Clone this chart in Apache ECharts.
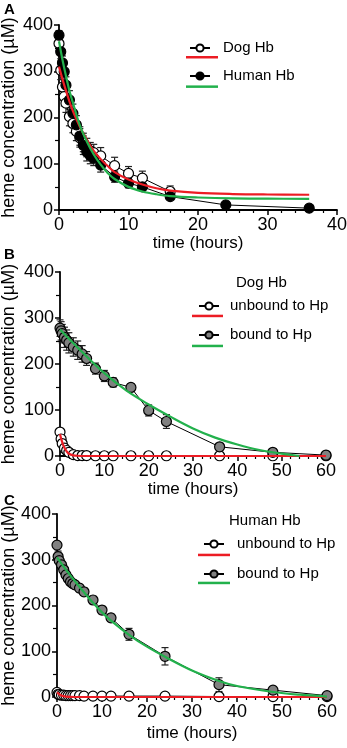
<!DOCTYPE html>
<html>
<head>
<meta charset="utf-8">
<script src="https://cdn.jsdelivr.net/npm/echarts@6/dist/echarts.min.js"></script>
<style>html,body{margin:0;padding:0;background:#fff}#c{width:347px;height:748px}</style>
</head>
<body>
<div id="c"></div>
<script>
// ---- Panel A ----
const tA = [0, 0.25, 0.5, 0.75, 1, 1.5, 2, 2.5, 3, 3.5, 4, 4.5, 5, 6, 8, 10, 12, 16, 24, 36];
const dogA = [360, 302, 266, 245, 231, 202, 187, 170, 156, 146, 135, 128, 124, 117, 96, 79, 69, 40, null, null];
const dogAErr = [15, 20, 20, 20, 20, 20, 20, 20, 20, 20, 20, 18, 18, 18, 18, 15, 15, 12, null, null];
const humanA = [378, 342, 318, 299, 270, 238, 209, 184, 160, 140, 126, 118, 112, 97, 72, 58, 50, 29, 11, 4];
const humanAErr = [10, 15, 15, 18, 18, 20, 20, 20, 20, 20, 20, 18, 16, 15, 12, 10, 8, 6, 4, 3];
const fitTA = [0, 0.5, 1, 1.5, 2, 3, 4, 5, 6, 7, 8, 10, 12, 14, 16, 20, 25, 30, 36];
const dogFitA = [310, 283, 258, 235, 214, 180, 152, 128, 110, 95, 82, 66, 55, 47, 42, 37, 34.5, 33.5, 33];
const humanFitA = [365, 325, 290, 258, 232, 183, 148, 120, 98, 80, 67, 50, 40, 34, 30, 27, 25, 24.5, 24];

// ---- Panel B (Dog Hb) ----
const tB = [0, 0.25, 0.5, 1, 1.5, 2, 3, 4, 5, 6, 8, 10, 12, 16, 20, 24, 36, 48, 60];
const boundB = [278, 272, 266, 258, 252, 246, 237, 230, 222, 212, 190, 174, 160, 149, 99, 75, 20, 8, 2];
const boundBErr = [18, 20, 20, 22, 22, 22, 20, 20, 18, 15, 12, 12, 10, 8, 12, 15, 5, 5, 3];
const unboundB = [52, 37, 27, 17, 12, 8, 3, 1, 1, 1, 0.5, 0.5, 0.5, 0.5, 0.5, 0.5, 0.5, 0.5, 0.5];
const unboundBErr = [5, 6, 5, 4, 3, 3, 2, 1, 1, 1, 0, 0, 0, 0, 0, 0, 0, 0, 0];
const fitTBu = [0, 0.25, 0.5, 0.75, 1, 1.5, 2, 3, 4, 6, 60];
const unboundFitB = [48, 38, 30, 23, 18, 10, 5, 1.5, 0.5, 0, 0];
const fitTBb = [0, 5, 10, 15, 20, 25, 30, 35, 40, 45, 50, 54];
const boundFitB = [275, 226, 180, 142, 112, 85, 60, 40, 25, 13, 5, 0];

// ---- Panel C (Human Hb) ----
const tC = [0, 0.25, 0.5, 1, 1.5, 2, 2.5, 3, 3.5, 4, 5, 6, 8, 10, 12, 16, 24, 36, 48, 60];
const boundC = [332, 307, 298, 289, 278, 267, 259, 252, 248, 245, 238, 230, 212, 190, 173, 137, 89, 27, 15, 3];
const boundCErr = [5, 12, 10, 10, 10, 8, 8, 8, 8, 8, 8, 8, 8, 8, 8, 13, 19, 15, 8, 5];
const unboundC = [10, 6, 5, 4, 4, 3, 3, 3, 3, 3, 3, 2, 2, 2, 2, 2, 2, 1, 1, 1];
const fitTCu = [0, 0.5, 1, 2, 4, 60];
const unboundFitC = [10, 6, 3, 1, 0, 0];
const fitTCb = [0, 2, 4, 6, 8, 10, 12, 16, 20, 24, 30, 36, 40, 48, 54, 60];
const boundFitC = [305, 278, 253, 229, 206, 185, 167, 136, 110, 88, 58, 35, 24, 11, 5, 1];

// tick labels
const yTicks = [0, 100, 200, 300, 400];
const xTicksA = [0, 10, 20, 30, 40];
const xTicksBC = [0, 10, 20, 30, 40, 50, 60];

const FONT = 'Liberation Sans, Arial, Helvetica, sans-serif';
const RED = '#ec1c24';
const GREEN = '#22b14c';

function pairs(t, v) { const out = []; t.forEach((x, i) => { if (v[i] != null) out.push([x, v[i]]); }); return out; }
function triples(t, v, e) { const out = []; t.forEach((x, i) => { if (v[i] != null && e[i]) out.push([x, v[i], e[i]]); }); return out; }

function errRender(params, api) {
  const x = api.value(0), y = api.value(1), e = api.value(2);
  const hi = api.coord([x, y + e]);
  const lo = api.coord([x, y - e]);
  const w = 3.5;
  const st = { stroke: '#222', lineWidth: 1.2 };
  return { type: 'group', children: [
    { type: 'line', shape: { x1: hi[0], y1: hi[1], x2: lo[0], y2: lo[1] }, style: st },
    { type: 'line', shape: { x1: hi[0] - w, y1: hi[1], x2: hi[0] + w, y2: hi[1] }, style: st },
    { type: 'line', shape: { x1: lo[0] - w, y1: lo[1], x2: lo[0] + w, y2: lo[1] }, style: st }
  ]};
}

function xAxisCfg(idx, max, ticks, gap) {
  return {
    type: 'value', gridIndex: idx, min: 0, max: max, interval: 10,
    name: 'time (hours)', nameLocation: 'middle', nameGap: gap, nameMoveOverlap: false,
    nameTextStyle: { fontFamily: FONT, fontSize: 17, color: '#000' },
    axisLine: { onZero: false, lineStyle: { color: '#000', width: 1.8 } },
    axisTick: { show: true, length: 5, lineStyle: { color: '#000', width: 1.5 } },
    minorTick: { show: true, splitNumber: 5, length: 3, lineStyle: { color: '#000', width: 1.2 } },
    axisLabel: { fontFamily: FONT, fontSize: 18, color: '#000', margin: 6,
      formatter: v => ticks.indexOf(v) >= 0 ? String(v) : '' },
    splitLine: { show: false }
  };
}
function yAxisCfg(idx, gap) {
  return {
    type: 'value', gridIndex: idx, min: 0, max: 400, interval: 100,
    name: 'heme concentration (\u00b5M)', nameLocation: 'middle', nameGap: gap, nameRotate: 90,
    nameMoveOverlap: false,
    nameTextStyle: { fontFamily: FONT, fontSize: 18, color: '#000' },
    axisLine: { show: true, onZero: false, lineStyle: { color: '#000', width: 1.8 } },
    axisTick: { show: true, length: 5, lineStyle: { color: '#000', width: 1.5 } },
    minorTick: { show: true, splitNumber: 2, length: 4, lineStyle: { color: '#000', width: 1.2 } },
    axisLabel: { fontFamily: FONT, fontSize: 18, color: '#000', margin: 6,
      formatter: v => yTicks.indexOf(v) >= 0 ? String(v) : '' },
    splitLine: { show: false }
  };
}

function dataSeries(name, idx, t, v, fill) {
  return { name: name, type: 'line', xAxisIndex: idx, yAxisIndex: idx, data: pairs(t, v),
    symbol: 'circle', symbolSize: 10, showSymbol: true, z: 3,
    lineStyle: { color: '#000', width: 1 },
    itemStyle: { color: fill, borderColor: '#000', borderWidth: 1.2 },
    emphasis: { disabled: true }, animation: false };
}
function fitSeries(name, idx, t, v, color) {
  return { name: name, type: 'line', xAxisIndex: idx, yAxisIndex: idx, data: pairs(t, v),
    symbol: 'none', smooth: 0.35, z: 4, color: color,
    lineStyle: { color: color, width: 2.2 }, emphasis: { disabled: true }, animation: false };
}
function errSeries(idx, t, v, e) {
  return { type: 'custom', xAxisIndex: idx, yAxisIndex: idx, data: triples(t, v, e),
    renderItem: errRender, encode: { x: 0, y: 1 }, z: 2, silent: true, animation: false };
}

const LT = { fontFamily: FONT, fontSize: 15, color: '#000', lineHeight: 16 };
function legendData(name, left, top, padL) {
  return { data: [name], left: left, top: top, padding: 0, itemWidth: 20, itemHeight: 9,
    selectedMode: false, textStyle: Object.assign({}, LT, { padding: [0, 0, 0, padL] }) };
}
function legendFit(name, left, top, w) {
  return { data: [name], left: left, top: top, padding: 0, itemWidth: w, itemHeight: 2.5,
    icon: 'rect', selectedMode: false, formatter: () => '', textStyle: LT };
}

const option = {
  animation: false,
  backgroundColor: '#fff',
  grid: [
    { left: 59, top: 25, width: 278, height: 185, outerBoundsMode: 'none', containLabel: false },
    { left: 60, top: 272, width: 266, height: 184, outerBoundsMode: 'none', containLabel: false },
    { left: 57, top: 514, width: 270, height: 183, outerBoundsMode: 'none', containLabel: false }
  ],
  xAxis: [xAxisCfg(0, 40, xTicksA, 25), xAxisCfg(1, 60, xTicksBC, 25), xAxisCfg(2, 60, xTicksBC, 28)],
  yAxis: [yAxisCfg(0, 41), yAxisCfg(1, 42), yAxisCfg(2, 39)],
  title: [
    { text: 'A', left: 4, top: 2, padding: 0, textStyle: { fontFamily: FONT, fontSize: 15, fontWeight: 'bold', color: '#000' } },
    { text: 'B', left: 4, top: 247, padding: 0, textStyle: { fontFamily: FONT, fontSize: 15, fontWeight: 'bold', color: '#000' } },
    { text: 'C', left: 4, top: 493, padding: 0, textStyle: { fontFamily: FONT, fontSize: 15, fontWeight: 'bold', color: '#000' } },
    { text: 'Dog Hb', left: 236, top: 275, padding: 0, textStyle: { fontFamily: FONT, fontSize: 15, fontWeight: 'normal', color: '#000' } },
    { text: 'Human Hb', left: 229, top: 513, padding: 0, textStyle: { fontFamily: FONT, fontSize: 15, fontWeight: 'normal', color: '#000' } }
  ],
  legend: [
    legendData('Dog Hb', 189, 40, 8),
    legendFit('Dog Hb fit', 186, 56, 32),
    legendData('Human Hb', 189, 68, 8),
    legendFit('Human Hb fit', 186, 85.4, 32),
    legendData('unbound to Hp', 198, 298, 6),
    legendFit('B unbound fit', 192, 314.7, 31),
    legendData('bound to Hp', 198, 327, 6),
    legendFit('B bound fit', 192, 344.7, 31),
    legendData('unbound to Hp ', 203, 536, 8),
    legendFit('C unbound fit', 198, 553.7, 32),
    legendData('bound to Hp ', 203, 566, 8),
    legendFit('C bound fit', 198, 581.7, 32)
  ],
  series: [
    errSeries(0, tA, dogA, dogAErr),
    errSeries(0, tA, humanA, humanAErr),
    dataSeries('Dog Hb', 0, tA, dogA, '#fff'),
    dataSeries('Human Hb', 0, tA, humanA, '#000'),
    fitSeries('Dog Hb fit', 0, fitTA, dogFitA, RED),
    fitSeries('Human Hb fit', 0, fitTA, humanFitA, GREEN),

    errSeries(1, tB, boundB, boundBErr),
    errSeries(1, tB, unboundB, unboundBErr),
    dataSeries('unbound to Hp', 1, tB, unboundB, '#fff'),
    dataSeries('bound to Hp', 1, tB, boundB, '#808080'),
    fitSeries('B unbound fit', 1, fitTBu, unboundFitB, RED),
    fitSeries('B bound fit', 1, fitTBb, boundFitB, GREEN),

    errSeries(2, tC, boundC, boundCErr),
    dataSeries('unbound to Hp ', 2, tC, unboundC, '#fff'),
    dataSeries('bound to Hp ', 2, tC, boundC, '#808080'),
    fitSeries('C unbound fit', 2, fitTCu, unboundFitC, RED),
    fitSeries('C bound fit', 2, fitTCb, boundFitC, GREEN)
  ]
};
const chart = echarts.init(document.getElementById('c'), null, { renderer: 'canvas' });
chart.setOption(option);
</script>
</body>
</html>
